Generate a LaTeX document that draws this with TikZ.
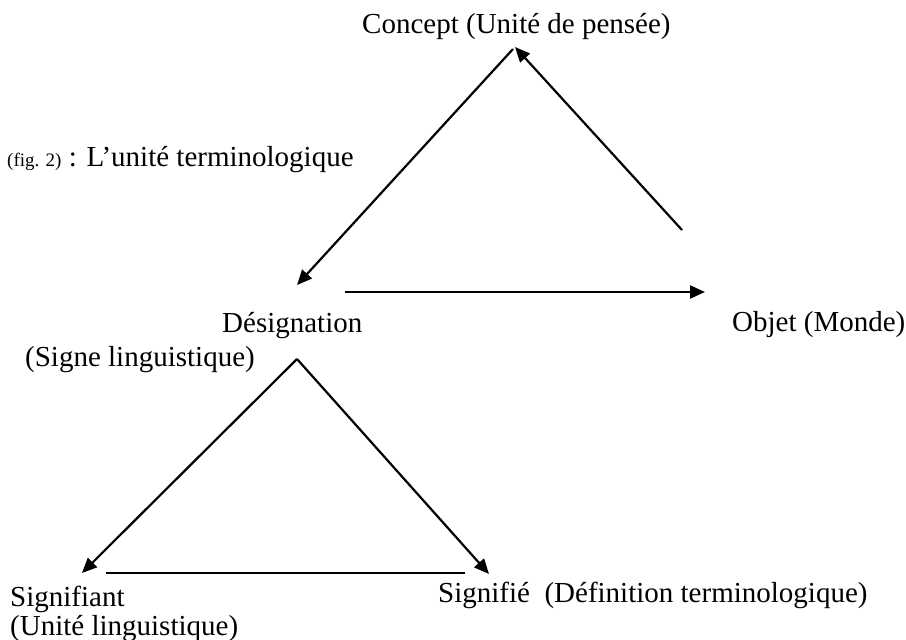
\documentclass[tikz,border=0pt]{standalone}
\usepackage{fontspec}
\setmainfont{Liberation Serif}
\usetikzlibrary{arrows.meta}
\begin{document}
\begin{tikzpicture}[x=1pt,y=-1pt,
  lbl/.style={anchor=base west,inner sep=0pt,font=\fontsize{29}{29}\selectfont},
  con/.style={line width=2.2pt,-{Triangle[length=15pt,width=13pt]}},
  plainline/.style={line width=2.2pt}]
\useasboundingbox (0,0) rectangle (906,640);
% labels
\node[lbl] (concept) at (362,33) {Concept (Unité de pensée)};
\node[lbl] (fig) at (7,166) {{\fontsize{19}{19}\selectfont (fig. 2)} : L’unité terminologique};
\node[lbl] (designation) at (222,332) {Désignation};
\node[lbl] (objet) at (732,331) {Objet (Monde)};
\node[lbl] (signe) at (25,366) {(Signe linguistique)};
\node[lbl] (signifiant) at (10,606) {Signifiant};
\node[lbl] (unite) at (10,635) {(Unité linguistique)};
\node[lbl] (signifie) at (438,602) {Signifié\ \ (Définition terminologique)};
% connector end points
\coordinate (capex) at (515,47);
\coordinate (cleft) at (513,49);
\coordinate (objtop) at (682,230);
\coordinate (destip) at (297,285);
\coordinate (hstart) at (345,292);
\coordinate (hend) at (705,292);
\coordinate (lapex) at (297,359);
\coordinate (ltip) at (82,573);
\coordinate (rtip) at (489,574);
\coordinate (bstart) at (106,573);
\coordinate (bend) at (465,573);
% connectors
\draw[con] (objtop) -- (capex);
\draw[con] (cleft) -- (destip);
\draw[con] (hstart) -- (hend);
\draw[con] (lapex) -- (ltip);
\draw[con] (lapex) -- (rtip);
\draw[plainline] (bstart) -- (bend);
\end{tikzpicture}
\end{document}
